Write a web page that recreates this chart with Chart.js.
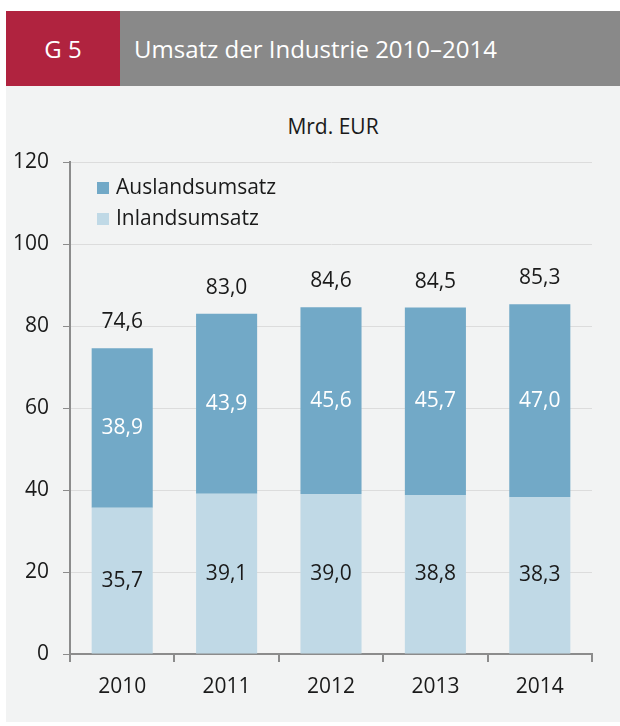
<!DOCTYPE html>
<html lang="de">
<head>
<meta charset="utf-8">
<title>Umsatz der Industrie 2010–2014</title>
<script src="https://cdn.jsdelivr.net/npm/chart.js@4/dist/chart.umd.min.js"></script>
<style>
    body { margin: 0; background: #ffffff; font-family: "Open Sans", sans-serif; }
    #header-num { position: absolute; left: 6px; top: 11px; width: 114px; height: 75px; background: #b0233f;
        color: #fff; font-size: 24px; line-height: 75px; text-align: center; }
    #header-title { position: absolute; left: 120px; top: 11px; width: 500px; height: 75px; background: #898989;
        color: #fff; font-size: 24px; line-height: 75px; padding-left: 14px; box-sizing: border-box; }
    #panel { position: absolute; left: 6px; top: 86px; width: 614px; height: 636px; background: #f2f3f3; }
    #unit { position: absolute; left: 6px; top: 112px; width: 654px; text-align: center; font-size: 21px; color: #1a1a1a; }
    #wrap { position: absolute; left: 0; top: 0; width: 620px; height: 726px; }
</style>
</head>
<body>
<div id="header-num">G 5</div>
<div id="header-title">Umsatz der Industrie 2010–2014</div>
<div id="panel"></div>
<div id="unit">Mrd. EUR</div>
<div id="wrap"><canvas id="umsatzChart"></canvas></div>
<script>
    // Daten
    const years = ['2010', '2011', '2012', '2013', '2014'];
    const inlandsumsatz = [35.7, 39.1, 39.0, 38.8, 38.3];
    const auslandsumsatz = [38.9, 43.9, 45.6, 45.7, 47.0];
    const gesamt = [74.6, 83.0, 84.6, 84.5, 85.3];
    const yTicks = [0, 20, 40, 60, 80, 100, 120];

    const fmt = v => v.toFixed(1).replace('.', ',');
    const fontFamily = '"Open Sans", sans-serif';

    // Werte in und über den Balken, Legende oben links
    const labelPlugin = {
        id: 'labels',
        afterDatasetsDraw(chart) {
            const ctx = chart.ctx;
            ctx.save();
            ctx.font = '21px ' + fontFamily;
            ctx.textAlign = 'center';
            ctx.textBaseline = 'middle';
            chart.data.datasets.forEach((ds, i) => {
                const meta = chart.getDatasetMeta(i);
                meta.data.forEach((bar, j) => {
                    ctx.fillStyle = i === 0 ? '#1a1a1a' : '#ffffff';
                    ctx.fillText(fmt(ds.data[j]), bar.x, (bar.y + bar.base) / 2);
                });
            });
            const topMeta = chart.getDatasetMeta(1);
            ctx.fillStyle = '#1a1a1a';
            topMeta.data.forEach((bar, j) => {
                ctx.fillText(fmt(gesamt[j]), bar.x, bar.y - 26);
            });

            // Legende
            const items = [chart.data.datasets[1], chart.data.datasets[0]];
            const x0 = chart.chartArea.left + 27;
            let y = chart.chartArea.top + 26;
            ctx.textAlign = 'left';
            items.forEach(ds => {
                ctx.fillStyle = ds.backgroundColor;
                ctx.fillRect(x0, y - 6, 12, 12);
                ctx.fillStyle = '#1a1a1a';
                ctx.fillText(ds.label, x0 + 19, y);
                y += 31;
            });
            ctx.restore();
        }
    };

    new Chart(document.getElementById('umsatzChart'), {
        type: 'bar',
        data: {
            labels: years,
            datasets: [{
                label: 'Inlandsumsatz',
                data: inlandsumsatz,
                backgroundColor: '#c0d9e6',
                categoryPercentage: 0.585,
                barPercentage: 1
            }, {
                label: 'Auslandsumsatz',
                data: auslandsumsatz,
                backgroundColor: '#72a9c7',
                categoryPercentage: 0.585,
                barPercentage: 1
            }]
        },
        options: {
            responsive: true,
            maintainAspectRatio: false,
            animation: false,
            layout: { padding: { top: 162, right: 28, left: 0, bottom: 0 } },
            plugins: {
                legend: { display: false },
                tooltip: { enabled: false }
            },
            scales: {
                x: {
                    stacked: true,
                    afterFit(scale) { scale.height = 72; },
                    grid: { drawOnChartArea: false, drawTicks: true, tickLength: 8, color: '#8c8c8c', lineWidth: 2 },
                    border: { color: '#8c8c8c', width: 2 },
                    ticks: { color: '#1a1a1a', padding: 12, font: { family: fontFamily, size: 21 } }
                },
                y: {
                    stacked: true,
                    min: 0,
                    max: 120,
                    afterFit(scale) { scale.width = 70; },
                    afterBuildTicks(scale) { scale.ticks = yTicks.map(v => ({ value: v })); },
                    grid: { color: '#dcdcdc', tickColor: '#8c8c8c', tickLength: 7, lineWidth: 1 },
                    border: { color: '#8c8c8c', width: 2 },
                    ticks: { color: '#1a1a1a', padding: 14, font: { family: fontFamily, size: 21 } }
                }
            }
        },
        plugins: [labelPlugin]
    });
</script>
</body>
</html>
